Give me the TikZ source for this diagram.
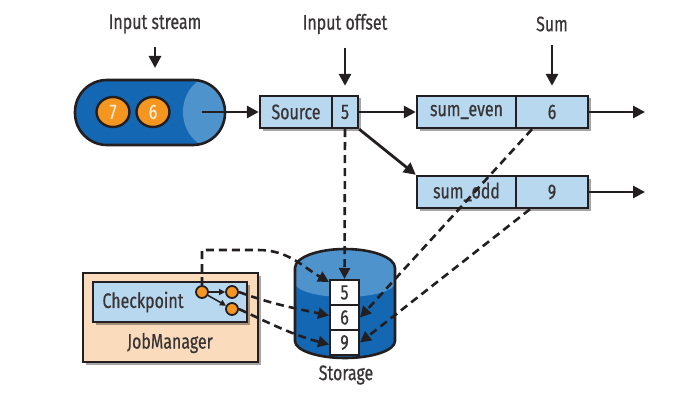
\documentclass[tikz,border=0pt]{standalone}
\usepackage{fontspec}
\setmainfont{Fira Sans}[FakeStretch=0.76, FakeBold=0.6]
\usetikzlibrary{arrows.meta,shadows,shapes.geometric,calc}

\definecolor{tubeblue}{HTML}{1467B3}
\definecolor{tubelight}{HTML}{4F93CD}
\definecolor{boxblue}{HTML}{B8D8EF}
\definecolor{ballorange}{HTML}{F4961F}
\definecolor{peach}{HTML}{FADCBC}
\definecolor{ink}{HTML}{231F20}

\begin{document}
\begin{tikzpicture}[x=1pt,y=-1pt,
  txt/.style={font=\fontsize{21}{24}\selectfont, text=ink!90},
  arr/.style={line width=2.8pt, draw=ink, -{Triangle[length=12pt,width=12pt]}},
  darr/.style={line width=2.6pt, draw=ink, dash pattern=on 8pt off 5pt, -{Triangle[length=11pt,width=11pt]}},
  shade/.style={drop shadow={shadow xshift=2.5pt, shadow yshift=-2.5pt, opacity=0.35, fill=black}},
  cell/.style={txt, draw=ink, line width=2.4pt, fill=boxblue, minimum height=32pt, inner sep=0pt, shade},
  slot/.style={txt, draw=ink, line width=2pt, fill=white, minimum width=29pt, minimum height=25pt, inner sep=0pt},
  ball/.style={ellipse, draw=ink, line width=2.4pt, fill=ballorange, minimum width=33pt, minimum height=30pt, inner sep=0pt,
    font=\fontsize{21}{24}\selectfont, text=white!80!ballorange},
  dot/.style={circle, draw=ink, line width=1.8pt, fill=ballorange, minimum size=12pt, inner sep=0pt}
]
\useasboundingbox (0,0) rectangle (692,401);

% headings
\node[txt] (hin)  at (155,24) {Input stream};
\node[txt] (hoff) at (345,24) {Input offset};
\node[txt] (hsum) at (552,24) {Sum};

% input stream tube
\begin{scope}
  \clip[rounded corners=32pt] (75,80) rectangle (225,145);
  \fill[tubeblue] (75,80) rectangle (225,145);
  \fill[tubelight] (214,112) ellipse [x radius=31pt, y radius=36pt];
\end{scope}
\draw[ink, line width=2.6pt, rounded corners=32pt] (75,80) rectangle (225,145);
\node[ball] (b7) at (113,112) {7};
\node[ball] (b6) at (153,112) {6};
\coordinate (tubeout) at (202,112);
\coordinate (tubetop) at (155,80);

% operators
\node[cell, minimum width=72pt] (src)  at (296,112) {Source};
\node[cell, minimum width=26pt] (srcv) at (345,112) {5};
\node[cell, minimum width=99pt] (even)  at (466.5,112) {sum\_even};
\node[cell, minimum width=72pt] (evenv) at (552,112) {6};
\node[cell, minimum width=99pt] (odd)  at (466.5,192) {sum\_odd};
\node[cell, minimum width=72pt] (oddv) at (552,192) {9};

% heading arrows
\draw[arr] ([yshift=-10pt]hin.south) -- ([yshift=12pt]tubetop);
\draw[arr] ([yshift=-10pt]hoff.south) -- ([yshift=9pt]srcv.north);
\draw[arr] ([yshift=-10pt]hsum.south) -- ([yshift=9pt]evenv.north);

% data flow
\coordinate (outeven) at (645,112);
\coordinate (outodd) at (645,192);
\draw[arr] (tubeout) -- (src.west);
\draw[arr] (srcv.east) -- (even.west);
\draw[arr] (srcv.south east) -- (odd.north west);
\draw[arr] (evenv.east) -- (outeven);
\draw[arr] (oddv.east) -- (outodd);

% storage cylinder
\fill[tubeblue] (295,268) -- (295,341) arc[start angle=180, end angle=360, x radius=50pt, y radius=17pt]
  -- (395,268) arc[start angle=0, end angle=180, x radius=50pt, y radius=19pt] -- cycle;
\fill[tubelight] (295,268) -- (295,283) arc[start angle=180, end angle=360, x radius=50pt, y radius=14pt]
  -- (395,268) arc[start angle=0, end angle=180, x radius=50pt, y radius=19pt] -- cycle;
\draw[ink, line width=2.6pt] (295,268) -- (295,341) arc[start angle=180, end angle=360, x radius=50pt, y radius=17pt]
  -- (395,268) arc[start angle=0, end angle=180, x radius=50pt, y radius=19pt] -- cycle;
\node[slot] (st5) at (344.5,292.5) {5};
\node[slot] (st6) at (344.5,317.5) {6};
\node[slot] (st9) at (344.5,342.5) {9};
\node[txt] (stlbl) at (346,375) {Storage};

% job manager
\node[draw=ink, line width=2.4pt, fill=peach, minimum width=175pt, minimum height=89pt, shade] (jm) at (170.5,317.5) {};
\node[txt] (jmlbl) at (170,343) {JobManager};
\node[draw=ink, line width=2.4pt, fill=boxblue, minimum width=154pt, minimum height=40pt, shade] (cp) at (170,302) {};
\node[txt] (cplbl) at (143,302) {Checkpoint};
\node[dot] (c1) at (202,292) {};
\node[dot] (c2) at (232,292) {};
\node[dot] (c3) at (232,309) {};
\draw[ink, line width=1.5pt, -{Triangle[length=6pt,width=6pt]}] (c1) -- (c2);
\draw[ink, line width=1.5pt, -{Triangle[length=6pt,width=6pt]}] (c1) -- (c3);

% snapshots written to storage
\draw[darr] (srcv.south) -- (st5.north);
\draw[darr] ([xshift=-20pt]evenv.south) -- (st6.east);
\draw[darr] ([xshift=-22pt]oddv.south) -- (st9.east);
\draw[darr] (c1.north) -- (202,250) -- (258,250) to[out=0, in=150] ([yshift=-3pt]st5.north west);
\draw[darr] (c2.east) to[out=-20, in=168] ([yshift=2pt]st6.west);
\draw[darr] (c3.east) to[out=-25, in=165] ([yshift=-2pt]st9.west);
\end{tikzpicture}
\end{document}
